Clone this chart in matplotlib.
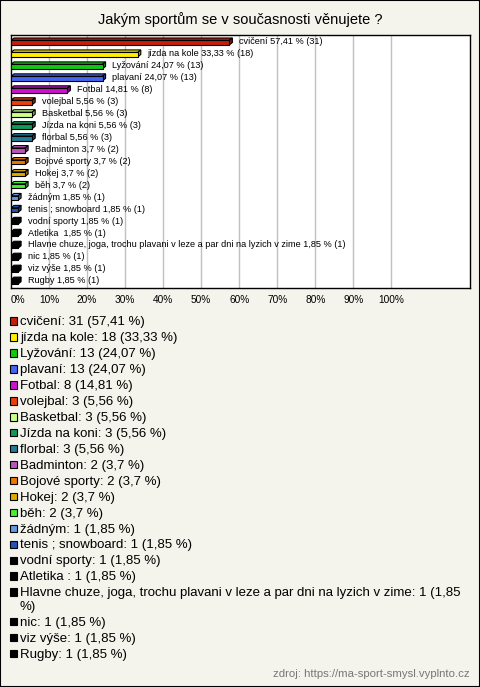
import textwrap

import matplotlib
matplotlib.use("Agg")
import matplotlib.pyplot as plt
from matplotlib.patches import Polygon, Rectangle
from matplotlib.colors import to_rgb

# survey answers, in display order
categories = [
    "cvičení", "jízda na kole", "Lyžování", "plavaní", "Fotbal", "volejbal",
    "Basketbal", "Jízda na koni", "florbal", "Badminton", "Bojové sporty",
    "Hokej", "běh", "žádným", "tenis ; snowboard", "vodní sporty", "Atletika ",
    "Hlavne chuze, joga, trochu plavani v leze a par dni na lyzich v zime",
    "nic", "viz výše", "Rugby",
]
counts = [31, 18, 13, 13, 8, 3, 3, 3, 3, 2, 2, 2, 2, 1, 1, 1, 1, 1, 1, 1, 1]
percents = [57.41, 33.33, 24.07, 24.07, 14.81, 5.56, 5.56, 5.56, 5.56, 3.7, 3.7,
            3.7, 3.7, 1.85, 1.85, 1.85, 1.85, 1.85, 1.85, 1.85, 1.85]
colors = ["#c41e0c", "#ffee00", "#11c811", "#4466ee", "#cc11cc", "#e8400e",
          "#ccff88", "#11995a", "#227a99", "#bb55bb", "#ee7700", "#ddaa00",
          "#44ee33", "#6699dd", "#2255bb", "#000000", "#000000", "#000000",
          "#000000", "#000000", "#000000"]
ticks = [0, 10, 20, 30, 40, 50, 60, 70, 80, 90, 100]

BG = "#f4f3ec"
W, H = 480, 687


def pct_str(p):
    return f"{p:g}".replace(".", ",")


fig = plt.figure(figsize=(W / 100, H / 100), dpi=100, facecolor=BG)
plt.rcParams["font.family"] = ["Liberation Sans", "DejaVu Sans"]

ax = fig.add_axes([11 / W, 1 - 288 / H, 459 / W, 253 / H])
ax.set_facecolor("white")
n = len(categories)
ax.set_xlim(0, 120.7)
ax.set_ylim(n - 1 + 0.6, -0.56)

for t in ticks[1:]:
    ax.axvline(t, color="#c0c0c0", lw=1, zorder=0)

h = 0.38
dx, dy = 0.8, 0.2
for i, (v, c) in enumerate(zip(percents, colors)):
    front_top = i - h / 2 + 0.08
    dark = tuple(x * 0.65 for x in to_rgb(c))
    top = Polygon([(0, front_top), (dx, front_top - dy), (v + dx, front_top - dy), (v, front_top)],
                  closed=True, fc=c, ec="black", lw=0.8, zorder=2)
    side = Polygon([(v, front_top), (v + dx, front_top - dy), (v + dx, front_top + h - dy), (v, front_top + h)],
                   closed=True, fc=dark, ec="black", lw=0.8, zorder=2)
    ax.add_patch(top)
    ax.add_patch(side)
    ax.barh(front_top + h / 2, v, height=h, color=c, edgecolor="black", lw=0.8, zorder=3)
    ax.text(v + 2.6, i, f"{categories[i]} {pct_str(v)} % ({counts[i]})",
            fontsize=6.6, va="center", ha="left", zorder=4)

ax.set_yticks([])
ax.set_xticks(ticks)
ax.set_xticklabels([f"{t}%" for t in ticks], fontsize=7.3)
ax.get_xticklabels()[0].set_ha("left")
ax.tick_params(axis="x", length=0, pad=5)
for s in ax.spines.values():
    s.set_color("black")
    s.set_linewidth(1)

fig.text(0.5, 1 - 20 / H, "Jakým sportům se v současnosti věnujete ?", ha="center",
         va="center", fontsize=10.5)

# legend below the chart
y = 322.3
for name, cnt, p, c in zip(categories, counts, percents, colors):
    lines = textwrap.wrap(f"{name}: {cnt} ({pct_str(p)} %)", width=77)
    fig.add_artist(Rectangle((9.5 / W, 1 - (y + 2.6) / H), 7.5 / W, 7.5 / H,
                             transform=fig.transFigure, fc=c, ec="black", lw=0.8))
    for k, line in enumerate(lines):
        fig.text(20 / W, 1 - (y + 13.4 * k) / H, line, ha="left", va="center",
                 fontsize=9.5)
    y += 15.94 + 13.4 * (len(lines) - 1)

fig.text(470 / W, 1 - 674 / H, "zdroj: https://ma-sport-smysl.vyplnto.cz", ha="right",
         va="center", fontsize=8.2, color="#777777")

fig.add_artist(Rectangle((0, 0), 1, 1, transform=fig.transFigure, fill=False,
                         ec="black", lw=1.5))

fig.savefig("out.png", dpi=100, facecolor=BG)
